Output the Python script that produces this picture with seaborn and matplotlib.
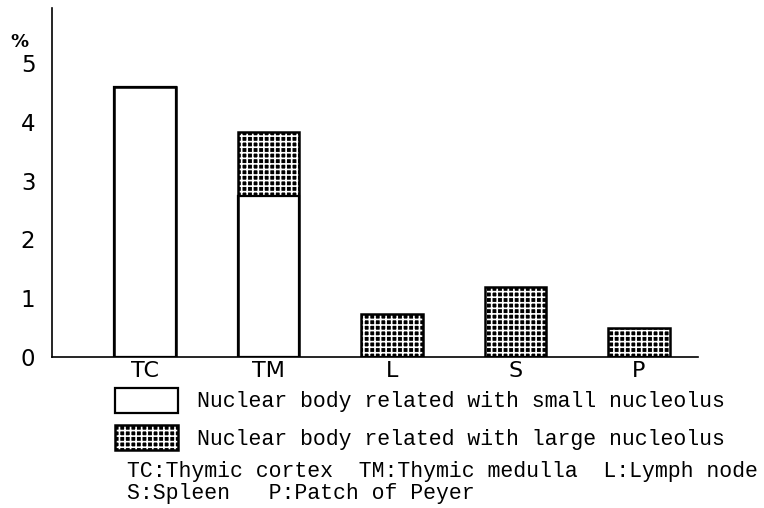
import matplotlib
matplotlib.use("Agg")
import matplotlib.pyplot as plt
import seaborn as sns
import pandas as pd
from matplotlib.patches import Rectangle

# ------------------------------------------------------------------
# data (% of cells)
# ------------------------------------------------------------------
sites = ["TC", "TM", "L", "S", "P"]
small_nucleolus = [4.59, 2.74, 0.0, 0.0, 0.0]
large_nucleolus = [0.0, 1.09, 0.73, 1.19, 0.49]
y_ticks = [0, 1, 2, 3, 4, 5]
legend_labels = ["Nuclear body related with small nucleolus",
                 "Nuclear body related with large nucleolus"]
abbrev_lines = ["TC:Thymic cortex  TM:Thymic medulla  L:Lymph node",
                "S:Spleen   P:Patch of Peyer"]

df = pd.DataFrame({"site": sites, "small": small_nucleolus, "large": large_nucleolus})
df["total"] = df["small"] + df["large"]

sns.set_style("white")
plt.rcParams["hatch.linewidth"] = 1.2
plt.rcParams["text.color"] = "black"
plt.rcParams["xtick.color"] = "black"
plt.rcParams["ytick.color"] = "black"
MONO = "Liberation Mono"
SANS = "DejaVu Sans"

fig = plt.figure(figsize=(7.64, 5.08), dpi=100)
ax = fig.add_axes([0.0681, 0.2972, 0.8455, 0.6871])

# hatched part = whole stack, white part painted over the lower section
sns.barplot(data=df, x="site", y="total", ax=ax, color="black", saturation=1,
            edgecolor="white", hatch="+++", linewidth=0, width=0.5, errorbar=None)
sns.barplot(data=df, x="site", y="small", ax=ax, color="white", saturation=1,
            edgecolor="black", linewidth=1.6, width=0.5, errorbar=None)
sns.barplot(data=df, x="site", y="total", ax=ax, color="black", fill=False,
            linewidth=1.8, width=0.5, errorbar=None)

ax.set_xlim(-0.753, 4.478)
ax.set_ylim(0, 5.935)
ax.set_yticks(y_ticks)
ax.set_xlabel("")
ax.set_ylabel("")
ax.tick_params(axis="y", length=0, pad=12, labelsize=16.5, labelcolor="black")
ax.tick_params(axis="x", length=0, pad=3, labelsize=16, labelcolor="black")
for lab in ax.get_xticklabels() + ax.get_yticklabels():
    lab.set_family(SANS)
sns.despine(ax=ax)
for side in ["left", "bottom"]:
    ax.spines[side].set_color("black")
    ax.spines[side].set_linewidth(1.2)

fig.text(19 / 764, 1 - 42 / 508, "%", fontsize=13, fontweight="bold",
         family=SANS, ha="center", va="center", color="black")

# hand-made legend below the axes
W, H = 764, 508
fig.add_artist(Rectangle((115 / W, 1 - 413 / H), 63 / W, 25 / H, transform=fig.transFigure,
                         facecolor="white", edgecolor="black", linewidth=1.6))
fig.add_artist(Rectangle((115 / W, 1 - 450 / H), 63 / W, 25 / H, transform=fig.transFigure,
                         facecolor="black", edgecolor="white", hatch="+++", linewidth=0))
fig.add_artist(Rectangle((115 / W, 1 - 450 / H), 63 / W, 25 / H, transform=fig.transFigure,
                         fill=False, edgecolor="black", linewidth=1.8))
for y, txt in [(401, legend_labels[0]), (439, legend_labels[1])]:
    fig.text(197 / W, 1 - y / H, txt, fontsize=15.5, family=MONO, va="center", color="black")
for y, txt in [(472, abbrev_lines[0]), (494, abbrev_lines[1])]:
    fig.text(127 / W, 1 - y / H, txt, fontsize=15.5, family=MONO, va="center", color="black")

fig.savefig("out.png", dpi=100)
